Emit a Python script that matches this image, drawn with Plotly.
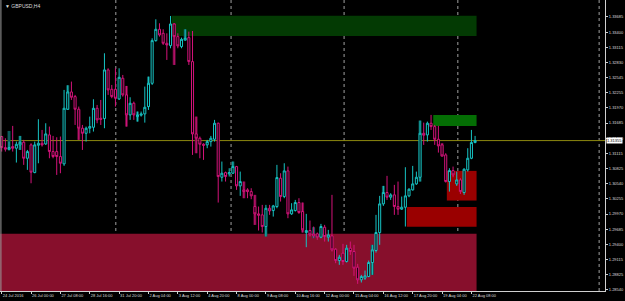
import plotly.graph_objects as go

# ---------------- data (GBPUSD H4) ----------------
bar_index = list(range(130))
opens = [1.31431,1.31223,1.31192,1.31242,1.31211,1.31274,1.31324,1.31022,1.31274,1.30752,
         1.31267,1.31305,1.31292,1.31462,1.31148,1.31148,1.31054,1.30916,1.31946,1.32272,
         1.32184,1.31946,1.31588,1.31493,1.31588,1.31606,1.31964,1.31776,1.31770,1.32687,
         1.32322,1.32322,1.32140,1.32530,1.32216,1.31839,1.32059,1.31807,1.31833,1.31858,
         1.31996,1.32435,1.33239,1.33453,1.33377,1.33189,1.33145,1.33553,1.33315,1.33126,
         1.33252,1.33296,1.32844,1.31481,1.31399,1.31286,1.31274,1.31336,1.31380,1.31682,
         1.30664,1.30752,1.30727,1.30740,1.30865,1.30501,1.30426,1.30426,1.30394,1.30112,
         1.29974,1.29955,1.29735,1.30080,1.30036,1.30112,1.30646,1.30300,1.30784,1.29974,
         1.30036,1.30187,1.30018,1.29622,1.29660,1.29597,1.29597,1.29534,1.29722,1.29534,
         1.29559,1.29308,1.29094,1.29233,1.29076,1.29327,1.29264,1.28969,1.28730,1.28762,
         1.28793,1.29057,1.29283,1.29622,1.30162,1.30376,1.30288,1.30332,1.30112,1.30062,
         1.30099,1.30313,1.30426,1.30539,1.30664,1.31493,1.31462,1.31682,1.31619,1.31380,
         1.31274,1.31085,1.30583,1.30790,1.30539,1.30614,1.30376,1.30803,1.31022,1.31318]
highs = [1.31443,1.31399,1.31336,1.31632,1.31336,1.31443,1.31368,1.31179,1.31305,1.31336,
         1.31757,1.31556,1.31682,1.31619,1.31443,1.31418,1.31431,1.32310,1.32398,1.32467,
         1.32216,1.31996,1.31650,1.31619,1.31807,1.32134,1.32027,1.32121,1.33001,1.32718,
         1.32404,1.32718,1.32718,1.32592,1.32385,1.32172,1.32090,1.31902,1.31902,1.32373,
         1.32561,1.33283,1.33641,1.33566,1.33453,1.33377,1.33704,1.33566,1.33377,1.33296,
         1.33453,1.33409,1.33421,1.31807,1.31431,1.31305,1.31368,1.31443,1.31745,1.31694,
         1.30960,1.30771,1.30834,1.30960,1.30878,1.30771,1.30583,1.30457,1.30457,1.30332,
         1.30112,1.30143,1.30143,1.30143,1.30143,1.30897,1.30740,1.30928,1.30865,1.30175,
         1.30237,1.30269,1.30187,1.29974,1.29848,1.29735,1.29622,1.29785,1.29766,1.29672,
         1.30332,1.29327,1.29201,1.29408,1.29390,1.29452,1.29390,1.29032,1.28824,1.28906,
         1.29094,1.29390,1.29955,1.30313,1.30501,1.30690,1.30363,1.30520,1.30583,1.30300,
         1.30853,1.30457,1.30878,1.30771,1.31732,1.31694,1.31713,1.31839,1.31650,1.31632,
         1.31305,1.31117,1.30834,1.30865,1.30771,1.30646,1.30834,1.31211,1.31556,1.31443]
lows = [1.31148,1.31148,1.31167,1.31148,1.30941,1.31179,1.30897,1.30803,1.30551,1.30740,
        1.30928,1.31242,1.31274,1.31022,1.31022,1.30708,1.30740,1.30878,1.31933,1.32121,
        1.31650,1.31368,1.31179,1.31336,1.31493,1.31525,1.31682,1.31650,1.31588,1.32216,
        1.32153,1.31996,1.32121,1.32184,1.31619,1.31745,1.31745,1.31713,1.31807,1.31694,
        1.31933,1.32404,1.33220,1.33315,1.33158,1.32875,1.33095,1.32781,1.33095,1.33095,
        1.33239,1.32781,1.31085,1.31117,1.31022,1.30991,1.31211,1.31242,1.31336,1.30187,
        1.30583,1.30583,1.30677,1.30727,1.30426,1.30313,1.30269,1.30269,1.30250,1.29766,
        1.29660,1.29622,1.29547,1.29955,1.29923,1.30080,1.30206,1.30269,1.29892,1.29955,
        1.30018,1.29974,1.29622,1.29346,1.29547,1.29515,1.29484,1.29515,1.29452,1.29452,
        1.29264,1.29044,1.29013,1.29013,1.29057,1.29201,1.28806,1.28655,1.28680,1.28730,
        1.28780,1.28824,1.29245,1.29390,1.30124,1.30237,1.30237,1.29955,1.29955,1.30049,
        1.29735,1.30288,1.30413,1.30520,1.30583,1.31274,1.31336,1.31556,1.31274,1.31129,
        1.31054,1.30564,1.30394,1.30664,1.30501,1.30350,1.30332,1.30771,1.31004,1.31305]
closes = [1.31223,1.31192,1.31223,1.31211,1.31286,1.31324,1.31022,1.31148,1.30759,1.31274,
          1.31305,1.31274,1.31481,1.31148,1.31054,1.31054,1.30928,1.31964,1.32272,1.32172,
          1.31946,1.31588,1.31493,1.31588,1.31619,1.31964,1.31745,1.31757,1.32687,1.32310,
          1.32184,1.32153,1.32548,1.32216,1.31839,1.32059,1.31839,1.31839,1.31858,1.31983,
          1.32435,1.33239,1.33453,1.33346,1.33189,1.33158,1.33553,1.33315,1.33139,1.33264,
          1.33283,1.32844,1.31481,1.31399,1.31286,1.31267,1.31336,1.31399,1.31682,1.30677,
          1.30740,1.30677,1.30752,1.30865,1.30501,1.30583,1.30394,1.30394,1.30313,1.29974,
          1.29949,1.29735,1.30080,1.30030,1.30124,1.30658,1.30300,1.30784,1.29974,1.30049,
          1.30187,1.29999,1.29672,1.29660,1.29578,1.29559,1.29534,1.29735,1.29547,1.29578,
          1.29295,1.29094,1.29157,1.29076,1.29327,1.29264,1.28950,1.28730,1.28793,1.28806,
          1.29057,1.29295,1.29622,1.30162,1.30376,1.30288,1.30332,1.30112,1.30062,1.30099,
          1.30313,1.30438,1.30539,1.30664,1.31493,1.31456,1.31682,1.31619,1.31380,1.31255,
          1.31066,1.30583,1.30790,1.30708,1.30614,1.30394,1.30815,1.31022,1.31318,1.31355]

# higher-timeframe shadow bars (bar index, top, bottom, direction)
htf_idx = [2, 5, 18, 21, 34, 37, 40, 47, 50, 53, 63, 66, 69, 72, 82, 85, 101, 104, 114, 120]
htf_top = [1.31537,1.31443,1.32398,1.31933,1.32385,1.31902,1.32561,1.33566,1.33453,1.31807,
           1.30960,1.30583,1.30332,1.29735,1.30187,1.29722,1.29390,1.30501,1.31732,1.31305]
htf_bot = [1.31179,1.31179,1.31933,1.31368,1.31619,1.31713,1.31996,1.32781,1.33239,1.31117,
           1.30740,1.30269,1.29766,1.29547,1.29622,1.29515,1.28824,1.30162,1.30583,1.31054]
htf_up = [1,1,1,0,0,1,1,0,1,0,1,0,0,1,0,1,1,1,1,0]

# supply / demand zones: start bar, end bar, top price, bottom price, colour
zone_start = [46.3, 117.6, 121.3, 110.4, -5]
zone_end = [129.4, 129.4, 129.4, 129.4, 129.4]
zone_top = [1.33710, 1.31839, 1.30784, 1.30105, 1.29597]
zone_bot = [1.33327, 1.31632, 1.30225, 1.29729, 1.27000]
zone_col = ["#033a03", "#046e04", "#9a0000", "#9a0000", "#870f2c"]

# axis labels
price_ticks = [1.33685, 1.33400, 1.33115, 1.32830, 1.32545, 1.32255, 1.31970, 1.31685,
               1.31400, 1.31115, 1.30825, 1.30540, 1.30255, 1.29970, 1.29685, 1.29400,
               1.29115, 1.28825, 1.28540]
time_tick_bars = [0, 8, 16, 24, 32, 40, 48, 56, 64, 72, 80, 88, 96, 104, 112, 120, 128]
time_tick_text = ["24 Jul 2016", "26 Jul 00:00", "27 Jul 08:00", "28 Jul 16:00", "31 Jul 20:00",
                  "2 Aug 04:00", "3 Aug 12:00", "4 Aug 20:00", "8 Aug 00:00", "9 Aug 08:00",
                  "10 Aug 16:00", "12 Aug 00:00", "15 Aug 04:00", "16 Aug 12:00",
                  "17 Aug 20:00", "19 Aug 04:00", "22 Aug 08:00"]
grid_bars = [31.1, 62.5, 93.3, 124.3, 162.8]

BULL = "#17c4c4"
BEAR = "#d4137a"
TXT = "#dcdcdc"
FONT = "Liberation Sans"

fig = go.Figure()

# shadow bars
fig.add_trace(go.Bar(
    x=htf_idx, y=[t - b for t, b in zip(htf_top, htf_bot)], base=htf_bot,
    marker=dict(color=["#0c5c5c" if u else "#6e0c40" for u in htf_up], line=dict(width=0)),
    width=0.8, hoverinfo="skip", showlegend=False))

fig.add_trace(go.Candlestick(
    x=bar_index, open=opens, high=highs, low=lows, close=closes,
    increasing=dict(line=dict(color=BULL, width=1), fillcolor="#000000"),
    decreasing=dict(line=dict(color=BEAR, width=1), fillcolor="#000000"),
    whiskerwidth=0, showlegend=False))

shapes = []
for s, e, t, b, c in zip(zone_start, zone_end, zone_top, zone_bot, zone_col):
    shapes.append(dict(type="rect", xref="x", yref="y", x0=s, x1=e, y0=b, y1=t,
                       fillcolor=c, line=dict(width=0), layer="below"))
for g in grid_bars:
    shapes.append(dict(type="line", xref="x", yref="paper", x0=g, x1=g, y0=0, y1=1,
                       line=dict(color="#a0a0a0", width=1, dash="dot"), layer="below"))
# current price line
shapes.append(dict(type="line", xref="paper", yref="y", x0=0, x1=1, y0=closes[-1], y1=closes[-1],
                   line=dict(color="#8c8810", width=1), layer="below"))
# left border
shapes.append(dict(type="line", xref="paper", yref="paper", x0=0.0015, x1=0.0015, y0=0, y1=1,
                   line=dict(color="#9a9a9a", width=1)))

annotations = [
    dict(text="▼ GBPUSD,H4", xref="paper", yref="paper", x=0.005, y=0.995,
         xanchor="left", yanchor="top", showarrow=False,
         font=dict(family=FONT, size=5, color=TXT)),
    dict(text=f"{closes[-1]:.5f}", xref="paper", yref="y", x=1, y=closes[-1],
         xanchor="left", yanchor="middle", showarrow=False, bgcolor="#ffffff",
         borderpad=0, xshift=1, font=dict(family=FONT, size=4, color="#000000")),
]

fig.update_layout(
    width=625, height=301,
    margin=dict(l=0, r=20, t=0, b=10, autoexpand=False),
    paper_bgcolor="#000000", plot_bgcolor="#000000",
    shapes=shapes, annotations=annotations,
    boxgap=0.2, bargap=0.2,
    xaxis=dict(range=[-0.46, 164.4], rangeslider=dict(visible=False),
               showgrid=False, zeroline=False, automargin=False,
               showline=True, linecolor="#d0d0d0", linewidth=1,
               ticks="outside", ticklen=2, tickcolor="#d0d0d0",
               tickvals=time_tick_bars, ticktext=time_tick_text,
               ticklabelposition="outside right", tickangle=0,
               tickfont=dict(family=FONT, size=4, color=TXT)),
    yaxis=dict(range=[1.28520, 1.34005], side="right",
               showgrid=False, zeroline=False, automargin=False,
               showline=True, linecolor="#d0d0d0", linewidth=1,
               ticks="outside", ticklen=2, tickcolor="#d0d0d0",
               tickvals=price_ticks, ticktext=[f"{p:.5f}" for p in price_ticks],
               tickfont=dict(family=FONT, size=4, color=TXT)),
)

fig.write_html("out.html")
